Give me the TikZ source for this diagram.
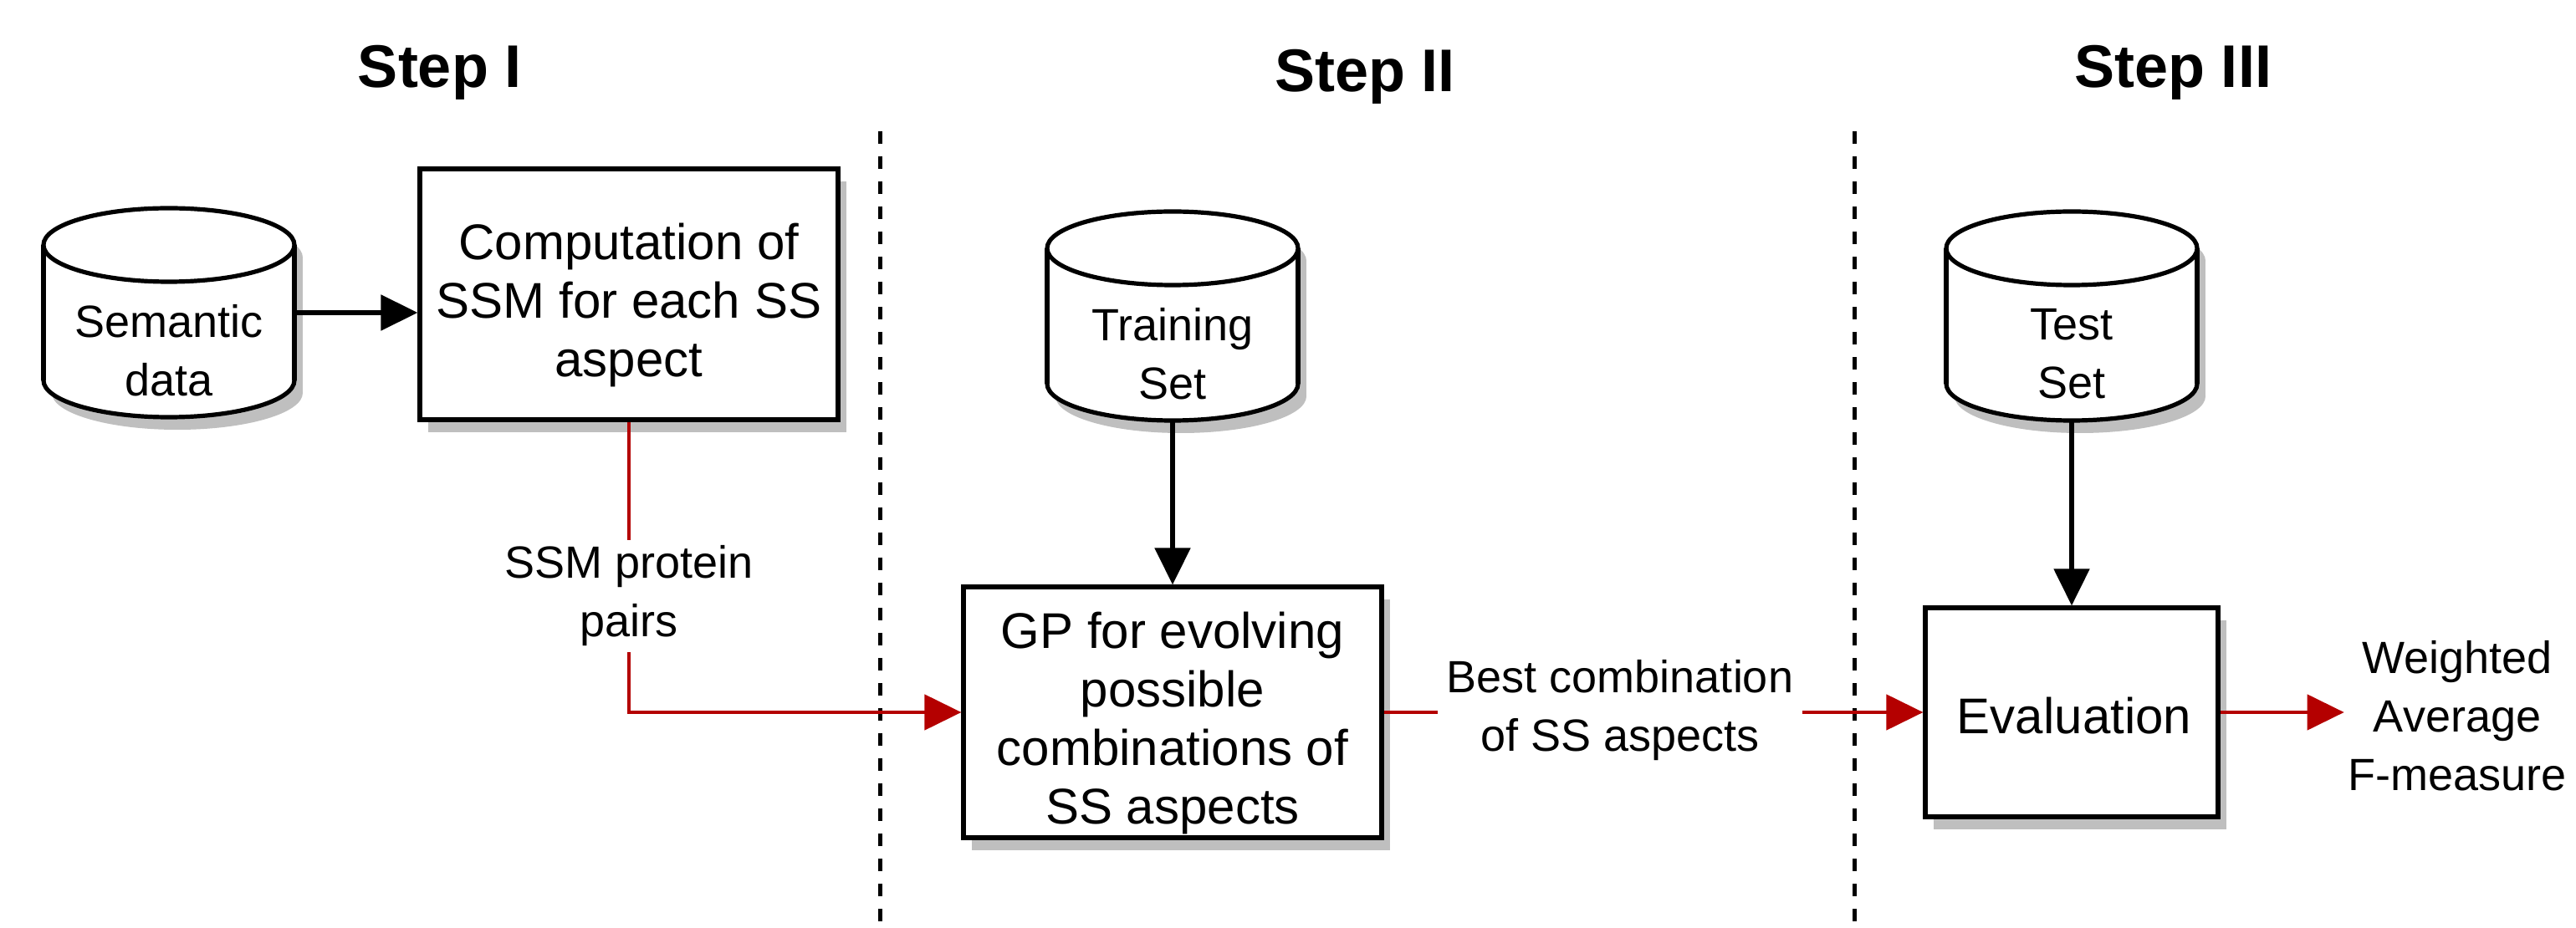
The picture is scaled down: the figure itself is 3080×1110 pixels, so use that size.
\documentclass[tikz,border=0pt]{standalone}
\usepackage{fontspec}
\setmainfont{Liberation Sans}
\usetikzlibrary{arrows.meta,shadows}
\definecolor{myred}{RGB}{180,0,0}
\definecolor{shgray}{RGB}{191,191,191}
\tikzset{
 boxline/.style={draw=black,line width=1.3pt},
 procbox/.style={boxline,fill=white,minimum width=125pt,minimum height=75pt,inner sep=0pt,
   drop shadow={shadow xshift=2.5pt,shadow yshift=-3.75pt,fill=shgray,opacity=1}},
 boxtext/.style={align=center,inner sep=0pt,font=\fontsize{15pt}{17.5pt}\selectfont},
 cylnode/.style={minimum width=75pt,minimum height=62.5pt,inner sep=0pt,draw=none},
 cyltext/.style={align=center,font=\fontsize{13.5pt}{17.5pt}\selectfont,inner sep=0pt},
 edgelbl/.style={align=center,font=\fontsize{13.5pt}{17.5pt}\selectfont,inner sep=1.5pt},
 steptitle/.style={anchor=base,font=\fontsize{18pt}{21pt}\selectfont\bfseries},
 blackarrow/.style={draw=black,line width=1.3pt,-{Triangle[length=11pt,width=10.5pt]}},
 redline/.style={draw=myred,line width=1.15pt},
 redarrow/.style={redline,-{Triangle[length=11pt,width=10.5pt]}},
 stepdiv/.style={draw=black,line width=1.25pt,dash pattern=on 3.75pt off 3.75pt},
}
\newcommand\mycyl[4]{%
  \fill[shgray] ({#2-140},{#3-66}) rectangle ({#2+160},{#3+96});
  \fill[shgray] ({#2+10},{#3+96}) ellipse [x radius=150, y radius=44];
  \fill[shgray] ({#2+10},{#3-66}) ellipse [x radius=150, y radius=44];
  \fill[white] ({#2-150},{#3-81}) rectangle ({#2+150},{#3+81});
  \fill[white] (#2,{#3+81}) ellipse [x radius=150, y radius=44];
  \draw[boxline] ({#2-150},{#3-81}) -- ({#2-150},{#3+81});
  \draw[boxline] ({#2+150},{#3-81}) -- ({#2+150},{#3+81});
  \begin{scope}
    \clip ({#2-170},{#3+81}) rectangle ({#2+170},{#3+140});
    \draw[boxline] (#2,{#3+81}) ellipse [x radius=150, y radius=44];
  \end{scope}
  \draw[boxline,fill=white] (#2,{#3-81}) ellipse [x radius=150, y radius=44];
  \node[cylnode] (#1) at (#2,#3) {};
  \node[cyltext] (#1t) at (#2,{#3+45}) {#4};
}
\begin{document}
\begin{tikzpicture}[x=0.25pt,y=-0.25pt]
\useasboundingbox (0,0) rectangle (3080,1110);

% titles
\node[steptitle] (t1) at (526,105) {Step I};
\node[steptitle] (t2) at (1632,110) {Step II};
\node[steptitle] (t3) at (2598,105) {Step III};

% separators
\coordinate (d1a) at (1052,157);
\coordinate (d1b) at (1052,1102);
\coordinate (d2a) at (2217,157);
\coordinate (d2b) at (2217,1102);
\draw[stepdiv] (d1a) -- (d1b);
\draw[stepdiv] (d2a) -- (d2b);

% cylinders
\mycyl{cylA}{202}{374}{Semantic\\data}
\mycyl{cylB}{1402}{378}{Training\\Set}
\mycyl{cylC}{2477}{378}{Test\\Set}

% boxes
\node[procbox] (boxA) at (752,352) {};
\node[boxtext] (boxAt) at (752,365) {Computation of\\SSM for each SS\\aspect};
\node[procbox] (boxB) at (1402,852) {};
\node[boxtext] (boxBt) at (1402,865) {GP for evolving\\possible\\combinations of\\SS aspects};
\node[procbox,minimum width=87.5pt,minimum height=62.5pt] (boxC) at (2477,852) {};
\node[boxtext] (boxCt) at (2480,856) {Evaluation};

% labels
\node[edgelbl] (ssm) at (752,713) {SSM protein\\pairs};
\node[edgelbl,inner xsep=2.5pt] (best) at (1937,850) {Best combination\\of SS aspects};
\node[edgelbl,inner sep=1pt] (wavg) at (2938,856) {Weighted\\Average\\F-measure};

% connectors
\draw[blackarrow] (cylA.east) -- (cylA.east -| boxA.west);
\draw[blackarrow] (cylB.south) -- (boxB.north);
\draw[blackarrow] (cylC.south) -- (boxC.north);

\draw[redline] (boxA.south) -- (ssm.north);
\draw[redarrow] (ssm.south) |- (boxB.west);
\draw[redline] (boxB.east) -- (boxB.east -| best.west);
\draw[redarrow] (boxC.west -| best.east) -- (boxC.west);
\draw[redarrow] (boxC.east) -- (boxC.east -| wavg.west);
\end{tikzpicture}
\end{document}
